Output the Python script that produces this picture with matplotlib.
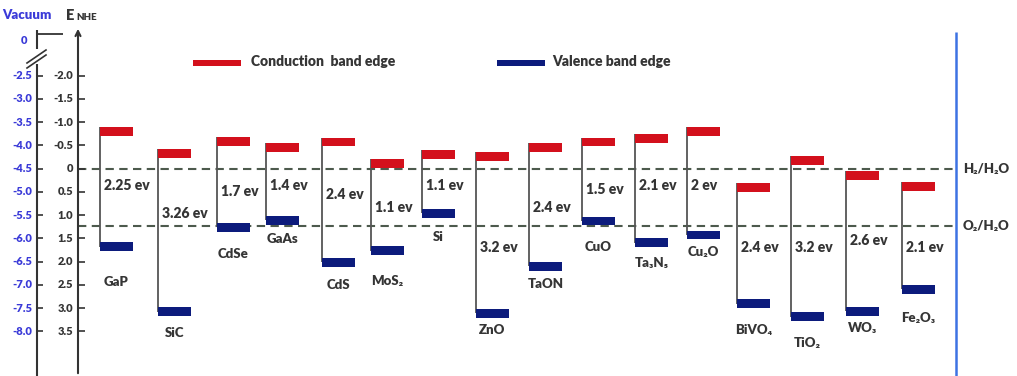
import matplotlib
matplotlib.use('Agg')
import matplotlib.pyplot as plt
import numpy as np

plt.rcParams['font.family'] = ['Lato', 'DejaVu Sans']
plt.rcParams['font.weight'] = 'heavy'

# band edges vs NHE (eV)
materials = ['GaP', 'SiC', 'CdSe', 'GaAs', 'CdS', 'MoS₂', 'Si', 'ZnO',
             'TaON', 'CuO', 'Ta₃N₅', 'Cu₂O', 'BiVO₄', 'TiO₂', 'WO₃', 'Fe₂O₃']
cb = [-0.79, -0.33, -0.58, -0.45, -0.57, -0.10, -0.31, -0.26,
      -0.45, -0.57, -0.65, -0.79, 0.41, -0.18, 0.15, 0.38]
vb = [1.68, 3.08, 1.26, 1.11, 2.02, 1.77, 0.96, 3.11,
      2.10, 1.13, 1.60, 1.43, 2.91, 3.19, 3.07, 2.60]
gaps = ['2.25 ev', '3.26 ev', '1.7 ev', '1.4 ev', '2.4 ev', '1.1 ev', '1.1 ev', '3.2 ev',
        '2.4 ev', '1.5 ev', '2.1 ev', '2 ev', '2.4 ev', '3.2 ev', '2.6 ev', '2.1 ev']
nhe_ticks = [-2.0, -1.5, -1.0, -0.5, 0, 0.5, 1.0, 1.5, 2.0, 2.5, 3.0, 3.5]
vac_labels = ['-2.5', '-3.0', '-3.5', '-4.0', '-4.5', '-5.0', '-5.5', '-6.0',
              '-6.5', '-7.0', '-7.5', '-8.0']
h2_level = 0.0
o2_level = 1.23

# layout (pixel columns, label heights in eV)
col_x = [100, 158, 217, 266, 322, 371, 422, 476, 529, 582, 635, 687, 737, 791, 846, 902]
gap_y = [0.36, 0.96, 0.50, 0.36, 0.55, 0.83, 0.36, 1.69,
         0.83, 0.45, 0.36, 0.36, 1.69, 1.69, 1.54, 1.69]
name_y = [2.44, 3.54, 1.84, 1.52, 2.50, 2.43, 1.47, 3.47,
          2.48, 1.69, 2.03, 1.80, 3.47, 3.75, 3.43, 3.22]

RED = '#d3101c'
NAVY = '#0c1b7c'
TXT = '#353535'
BLUE_TXT = '#3a3ad8'
W = 33  # bar width in px


def py(y):
    # pixel row -> eV for decorations
    return (y - 168.5) / 46.5


fig = plt.figure(figsize=(10.17, 3.76), dpi=100)
ax = fig.add_axes([0, 0, 1, 1])
ax.set_xlim(0, 1017)
ax.set_ylim(py(376), py(0))
ax.axis('off')

# reference levels
for lev in (h2_level, o2_level):
    ax.hlines(lev, 78, 955, colors='#4d5a4d', linestyles=(0, (4, 2.6)), lw=1.5, zorder=1)
ax.text(963, h2_level, 'H₂/H₂O', color=TXT, fontsize=9.5, va='center')
ax.text(963, o2_level, 'O₂/H₂O', color=TXT, fontsize=9.5, va='center')
ax.vlines(956, py(32), py(376), colors='#3d72e3', lw=1.8)

# bands
bh = 0.19
for i, m in enumerate(materials):
    x = col_x[i]
    ax.vlines(x, cb[i] - bh / 2, vb[i], colors='#555555', lw=1.3, zorder=2)
    ax.bar(x, bh, bottom=cb[i] - bh / 2, width=W, align='edge', color=RED, zorder=3)
    ax.bar(x, bh, bottom=vb[i] - bh / 2, width=W, align='edge', color=NAVY, zorder=3)
    ax.text(x + 4, gap_y[i], gaps[i], color=TXT, fontsize=10, va='center')
    ax.text(x + W / 2, name_y[i], m, color=TXT, fontsize=9.5, va='center', ha='center')

# legend
ax.bar(193, 0.15, bottom=py(63) - 0.075, width=48, align='edge', color=RED)
ax.text(251, py(62), 'Conduction  band edge', color=TXT, fontsize=10, va='center')
ax.bar(497, 0.15, bottom=py(63) - 0.075, width=48, align='edge', color=NAVY)
ax.text(552, py(62), 'Valence band edge', color=TXT, fontsize=10, va='center')

# NHE axis
ax.annotate('', xy=(78, py(26)), xytext=(78, py(376)),
            arrowprops=dict(arrowstyle='->', color='#333333', lw=1.5, mutation_scale=9))
for t in nhe_ticks:
    ax.hlines(t, 78, 85, colors='#333333', lw=1.2)
    lab = '0' if t == 0 else f'{t:.1f}'
    ax.text(73, t, lab, color=TXT, fontsize=8, ha='right', va='center')

# vacuum axis with break
ax.vlines(37, py(30), py(49), colors='#333333', lw=1.5)
ax.vlines(37, py(64), py(376), colors='#333333', lw=1.5)
ax.hlines(py(34), 37, 63, colors='#333333', lw=1.3)
ax.plot([27, 46], [py(68), py(55)], color='#333333', lw=1.2)
ax.plot([27, 46], [py(63), py(50)], color='#333333', lw=1.2)
for t, lab in zip(nhe_ticks, vac_labels):
    ax.hlines(t, 37, 43, colors='#333333', lw=1.2)
    ax.text(32, t, lab, color=BLUE_TXT, fontsize=8, ha='right', va='center')
ax.text(24, py(40), '0', color=BLUE_TXT, fontsize=8, ha='center', va='center')

# header
ax.text(2, py(15), 'Vacuum', color=BLUE_TXT, fontsize=9.5, va='center')
ax.text(66, py(15), 'E', color=TXT, fontsize=10.5, va='center')
ax.text(76, py(18), 'NHE', color=TXT, fontsize=7, va='center')

fig.savefig('out.png', dpi=100)
